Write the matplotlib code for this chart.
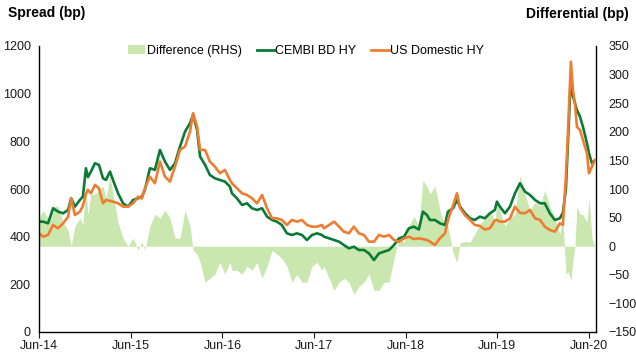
import matplotlib
matplotlib.use("Agg")
import matplotlib.pyplot as plt
import matplotlib.dates as mdates
from matplotlib.patches import Patch
from matplotlib.lines import Line2D
import pandas as pd

plt.rcParams['font.family'] = ['Liberation Sans', 'DejaVu Sans']

dates = [
    "2014-06-01", "2014-06-17", "2014-07-07", "2014-07-27", "2014-08-16", "2014-09-05", "2014-09-25",
    "2014-10-07", "2014-10-22", "2014-11-11", "2014-11-23", "2014-12-05", "2014-12-13", "2014-12-25",
    "2015-01-10", "2015-01-26", "2015-02-11", "2015-02-23", "2015-03-11", "2015-03-23", "2015-04-12",
    "2015-05-02", "2015-05-22", "2015-06-11", "2015-07-01", "2015-07-16", "2015-07-28", "2015-08-17",
    "2015-09-06", "2015-09-26", "2015-10-16", "2015-11-05", "2015-11-25", "2015-12-15", "2016-01-04",
    "2016-01-24", "2016-02-05", "2016-02-21", "2016-03-04", "2016-03-24", "2016-04-12", "2016-05-02",
    "2016-05-22", "2016-06-11", "2016-07-01", "2016-07-09", "2016-07-29", "2016-08-18", "2016-09-07",
    "2016-09-27", "2016-10-17", "2016-11-06", "2016-11-26", "2016-12-16", "2017-01-04", "2017-01-24",
    "2017-02-13", "2017-03-05", "2017-03-25", "2017-04-14", "2017-05-04", "2017-05-24", "2017-06-13",
    "2017-07-03", "2017-07-11", "2017-07-31", "2017-08-20", "2017-09-09", "2017-09-28", "2017-10-18",
    "2017-11-07", "2017-11-27", "2017-12-17", "2018-01-06", "2018-01-26", "2018-02-15", "2018-03-07",
    "2018-03-27", "2018-04-16", "2018-05-06", "2018-05-26", "2018-06-14", "2018-07-04", "2018-07-24",
    "2018-08-09", "2018-08-25", "2018-09-06", "2018-09-26", "2018-10-16", "2018-11-05", "2018-11-17",
    "2018-12-07", "2018-12-23", "2019-01-04", "2019-01-24", "2019-02-13", "2019-03-04", "2019-03-24",
    "2019-04-13", "2019-05-03", "2019-05-23", "2019-05-31", "2019-06-12", "2019-07-02", "2019-07-22",
    "2019-08-11", "2019-08-31", "2019-09-20", "2019-10-10", "2019-10-30", "2019-11-19", "2019-12-08",
    "2019-12-28", "2020-01-17", "2020-02-06", "2020-02-18", "2020-03-01", "2020-03-09", "2020-03-21",
    "2020-03-29", "2020-04-06", "2020-04-14", "2020-04-26", "2020-05-08", "2020-05-24", "2020-06-01",
    "2020-06-13", "2020-06-25",
]

cembi_bd_hy = [
    463, 463, 456, 519, 505, 498, 512,
    561, 526, 554, 568, 687, 650, 673,
    708, 701, 645, 638, 673, 638, 582,
    540, 526, 554, 561, 568, 596, 687,
    680, 764, 715, 680, 708, 778, 841,
    876, 911, 848, 736, 701, 659, 645,
    638, 631, 610, 582, 561, 533, 540,
    519, 512, 519, 484, 470, 463, 449,
    414, 407, 414, 407, 386, 407, 414,
    407, 400, 393, 386, 379, 365, 351,
    358, 344, 344, 330, 302, 330, 337,
    344, 365, 393, 400, 435, 442, 430,
    505, 491, 470, 470, 456, 449, 505,
    519, 554, 526, 498, 477, 470, 484,
    477, 498, 512, 547, 526, 498, 526,
    582, 624, 589, 575, 554, 540, 540,
    498, 470, 477, 500, 600, 790, 1075,
    990, 960, 931, 904, 861, 792, 750,
    708, 720,
]

us_domestic_hy = [
    414, 400, 407, 449, 435, 456, 484,
    561, 491, 505, 530, 580, 596, 582,
    617, 603, 540, 554, 550, 547, 540,
    526, 526, 540, 568, 560, 603, 652,
    624, 715, 652, 631, 694, 764, 778,
    841, 918, 862, 764, 764, 715, 694,
    666, 680, 638, 624, 603, 582, 575,
    561, 540, 575, 519, 477, 477, 470,
    449, 470, 463, 470, 449, 442, 442,
    449, 435, 449, 463, 442, 421, 414,
    442, 414, 407, 379, 379, 407, 400,
    407, 386, 379, 393, 400, 390, 393,
    390, 386, 379, 365, 393, 414, 470,
    530, 582, 520, 490, 470, 449, 445,
    430, 435, 468, 470, 463, 463, 477,
    526, 500, 498, 512, 477, 470, 442,
    428, 421, 456, 449, 650, 834, 1134,
    1015, 960, 861, 848, 806, 750, 666,
    694, 722,
]

x = pd.to_datetime(dates)
difference = [c - u for c, u in zip(cembi_bd_hy, us_domestic_hy)]

green = "#0b7a36"
orange = "#ee7d31"
area_col = "#c9e7ae"

fig = plt.figure(figsize=(6.36, 3.57), dpi=100)
ax = fig.add_axes([39/636, 25/357, (596-39)/636, (332-46)/357])
ax2 = ax.twinx()

ax2.fill_between(x, 0, difference, color=area_col, linewidth=0)
ax2.set_ylim(-150, 350)
ax2.set_yticks(range(-150, 351, 50))

ax.plot(x, cembi_bd_hy, color=green, lw=1.9)
ax.plot(x, us_domestic_hy, color=orange, lw=1.9)
ax.set_ylim(0, 1200)
ax.set_yticks(range(0, 1201, 200))
ax.set_zorder(ax2.get_zorder() + 1)
ax.patch.set_visible(False)

ax.set_xlim(pd.Timestamp("2014-06-01"), pd.Timestamp("2020-06-29"))
ax.xaxis.set_major_locator(mdates.MonthLocator(bymonth=6, bymonthday=1))
ax.xaxis.set_major_formatter(mdates.DateFormatter("%b-%y"))

for a in (ax, ax2):
    a.spines['top'].set_visible(False)
    for s in ('left', 'right', 'bottom'):
        a.spines[s].set_color('black')
        a.spines[s].set_linewidth(1.0)
ax.spines['right'].set_visible(False)
ax2.spines['left'].set_visible(False)
ax2.spines['bottom'].set_visible(False)

ax.tick_params(axis='y', length=0, labelsize=9, pad=6, colors='#1a1a1a')
ax2.tick_params(axis='y', length=0, labelsize=9, pad=9, colors='#1a1a1a')
ax.tick_params(axis='x', length=4, direction='out', labelsize=9, pad=2, colors='#1a1a1a')

fig.text(8/636, 1 - 13/357, "Spread (bp)", fontsize=10, fontweight='bold', va='center', ha='left')
fig.text(629/636, 1 - 14/357, "Differential (bp)", fontsize=10, fontweight='bold', va='center', ha='right')

handles = [
    Patch(facecolor=area_col, edgecolor='none'),
    Line2D([0], [0], color=green, lw=2),
    Line2D([0], [0], color=orange, lw=2),
]
labels = ["Difference (RHS)", "CEMBI BD HY", "US Domestic HY"]
ax.legend(handles, labels, loc='center', bbox_to_anchor=(306/636, 1 - 51/357),
          bbox_transform=fig.transFigure, ncol=3, frameon=False, fontsize=9,
          handlelength=1.4, handletextpad=0.1, columnspacing=1.2, handleheight=0.7)

fig.savefig("out.png", dpi=100)
